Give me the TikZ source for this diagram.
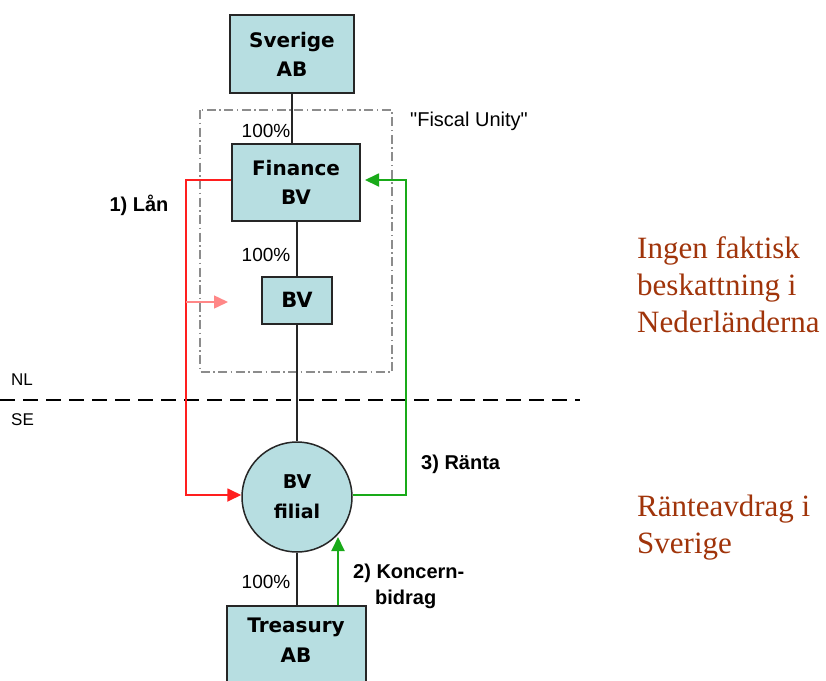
\documentclass[tikz,border=0pt]{standalone}
\usepackage{fontspec}
\setmainfont{Liberation Sans}
\newfontfamily\boxfont{DejaVu Sans}
\newfontfamily\serifnote{Liberation Serif}
\usetikzlibrary{arrows.meta}
\newcommand\straightquote{\XeTeXglyph\XeTeXcharglyph"22\relax}
\definecolor{boxfill}{RGB}{183,222,225}
\definecolor{lanred}{RGB}{255,30,30}
\definecolor{lanpink}{RGB}{255,135,135}
\definecolor{rantegreen}{RGB}{25,170,25}
\definecolor{notebrown}{RGB}{160,52,10}
\tikzset{
  entity/.style={draw=black!85, line width=2pt, fill=boxfill, align=center,
    font=\boxfont\bfseries\fontsize{20}{29}\selectfont, inner sep=0pt},
  owner/.style={draw=black!85, line width=1.5pt},
  share/.style={font=\fontsize{19}{22}\selectfont, inner sep=0pt},
  flowlabel/.style={font=\bfseries\fontsize{20}{27}\selectfont, align=left, inner sep=0pt},
  note/.style={font=\serifnote\fontsize{31}{37}\selectfont, text=notebrown, align=left, anchor=base west, inner sep=0pt},
  tip/.style={-{Triangle[length=14pt,width=13pt]}},
}
\begin{document}
\begin{tikzpicture}[x=1pt,y=-1pt]
\useasboundingbox (0,0) rectangle (826,680);
\clip (0,0) rectangle (826,680);

% fiscal unity frame
\draw[black!45, line width=1.2pt, dash pattern=on 9pt off 3.5pt on 1.5pt off 3.5pt] (200,110) rectangle (392,372);
\node[share, font=\fontsize{20}{22}\selectfont, anchor=west] (fu) at (410,121) {\straightquote Fiscal Unity\straightquote};

% entities
\node[entity, minimum width=124pt, minimum height=78pt] (sab) at (292,54) {Sverige\\AB};
\node[entity, minimum width=128pt, minimum height=77pt] (fbv) at (296,182) {Finance\\BV};
\node[entity, minimum width=70pt, minimum height=47pt, font=\boxfont\bfseries\fontsize{21}{29}\selectfont] (bv) at (297,300) {BV};
\node[entity, circle, minimum size=110pt, line width=1.5pt, font=\boxfont\bfseries\fontsize{19}{30}\selectfont] (fil) at (297,497) {BV\\filial};
\node[entity, minimum width=139pt, minimum height=96pt, anchor=north] (tab) at (296,605) {};
\node[font=\boxfont\bfseries\fontsize{20}{30}\selectfont, align=center, anchor=north] (tabtxt) at (296,614) {Treasury\\AB};

% ownership lines
\draw[owner] (sab.south) -- (sab.south |- fbv.north);
\draw[owner] (fbv.south -| bv.north) -- (bv.north);
\draw[owner] (bv.south) -- (fil.north);
\draw[owner] (fil.south) -- (fil.south |- tab.north);
\node[share] (p1) at (266,131) {100\%};
\node[share] (p2) at (266,255) {100\%};
\node[share] (p3) at (266,582) {100\%};

% border NL / SE
\coordinate (bl) at (0,400);
\coordinate (br) at (580,400);
\draw[black, line width=2.2pt, dash pattern=on 15pt off 8pt] (bl) -- (br);
\node[share, font=\fontsize{17}{20}\selectfont, anchor=west] (nl) at (11,380) {NL};
\node[share, font=\fontsize{17}{20}\selectfont, anchor=west] (se) at (11,420) {SE};

% 1) loan
\coordinate (ra) at (186,180);
\coordinate (rb) at (186,495);
\draw[lanred, line width=1.8pt, tip] (fbv.west |- ra) -- (ra) -- (rb) -- (fil.west |- rb);
\coordinate (pa) at (186,302);
\coordinate (pb) at (228,302);
\draw[lanpink, line width=1.5pt, tip] (pa) -- (pb);
\node[flowlabel] (lan) at (139,205) {1) Lån};

% 3) interest
\coordinate (ga) at (406,495);
\coordinate (gb) at (406,180);
\draw[rantegreen, line width=1.8pt, tip] (fil.east |- ga) -- (ga) -- (gb) -- ([xshift=4pt]fbv.east |- gb);
\node[flowlabel, anchor=west] (ranta) at (421,464) {3) Ränta};

% 2) group contribution
\coordinate (ka) at (338,605);
\coordinate (kb) at (338,537);
\draw[rantegreen, line width=2pt, tip] (ka) -- (kb);
\node[flowlabel, anchor=west] (kb1) at (353,573) {2) Koncern-};
\node[flowlabel, anchor=west] (kb2) at (375,599) {bidrag};

% notes (anchored at the baseline of their last line)
\node[note] (n1) at (637,332) {Ingen faktisk\\beskattning i\\Nederländerna};
\node[note] (n2) at (637,553) {Ränteavdrag i\\Sverige};
\end{tikzpicture}
\end{document}
